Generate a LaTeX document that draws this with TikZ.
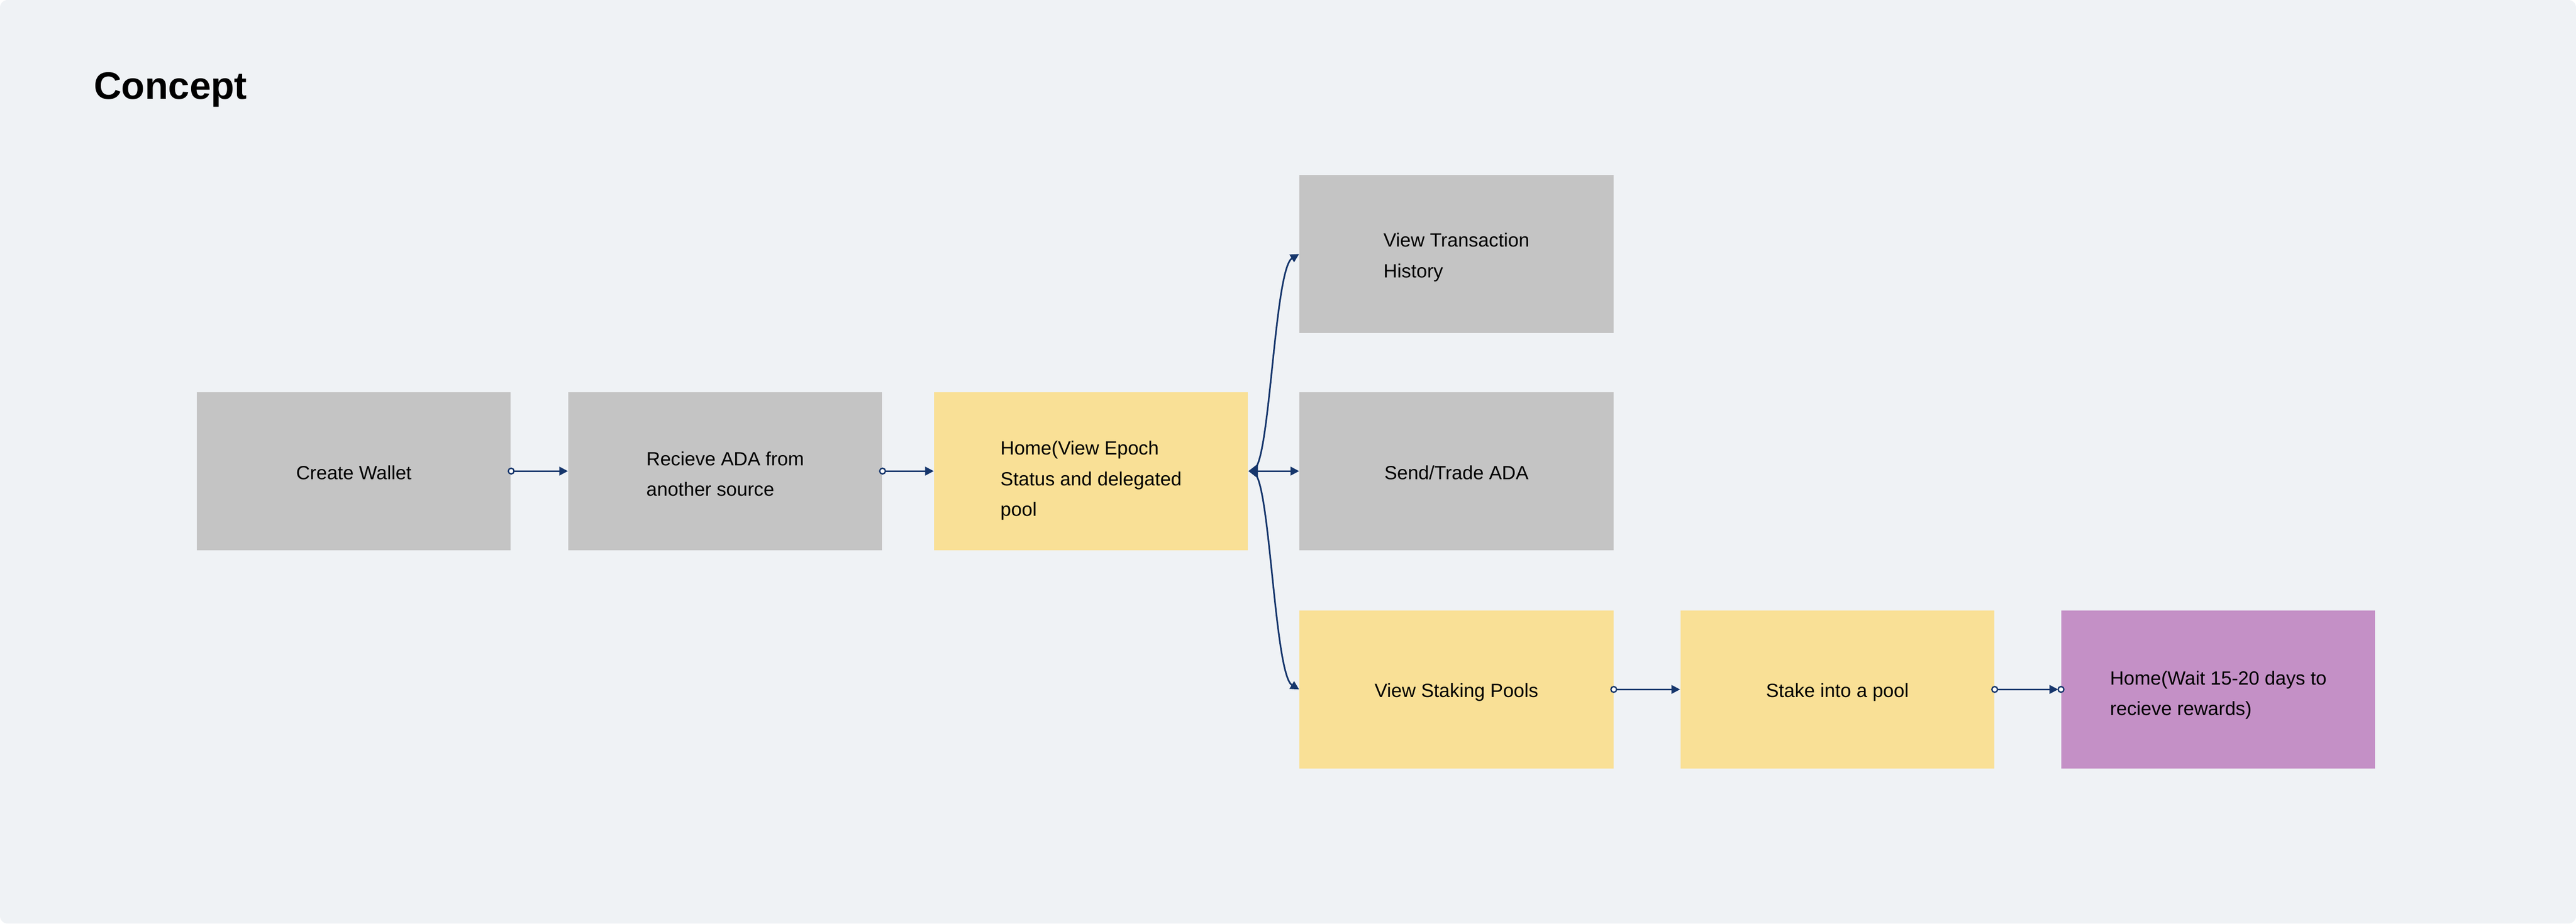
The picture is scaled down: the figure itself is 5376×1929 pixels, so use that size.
\documentclass[tikz,border=0pt]{standalone}
\usepackage{fontspec}
\setmainfont{Liberation Sans}
\usetikzlibrary{arrows.meta,calc}
\definecolor{bgc}{RGB}{239,242,245}
\definecolor{grayc}{RGB}{196,196,196}
\definecolor{yellowc}{RGB}{249,224,150}
\definecolor{purplec}{RGB}{196,144,198}
\definecolor{navy}{RGB}{22,54,108}
\begin{document}
\begin{tikzpicture}[x=0.25pt,y=-0.25pt,
  box/.style={minimum width=163.75pt,minimum height=82.5pt,inner sep=0pt,draw=none},
  txt/.style={inner sep=0pt,align=left,font=\fontsize{10}{16}\selectfont},
  conn/.style={draw=navy,line width=0.85pt},
  endtip/.style={-{Triangle[length=4.5pt,width=4.5pt]}},
  dot/.style={draw=navy,fill=white,line width=0.7pt}]

\useasboundingbox (0,0) rectangle (5376,1929);
\fill[white] (0,0) rectangle (5376,1929);
\fill[bgc,rounded corners=4pt] (0,0) rectangle (5376,1929);

\node[anchor=base west,inner sep=0pt,font=\bfseries\fontsize{20}{24}\selectfont] (title) at (195,207) {Concept};

\node[box,fill=grayc]   (cw) at (738.5,984)  {};
\node[box,fill=grayc]   (rc) at (1513.5,984) {};
\node[box,fill=yellowc] (hm) at (2277,984)   {};
\node[box,fill=grayc]   (vt) at (3039.5,530.5) {};
\node[box,fill=grayc]   (sd) at (3039.5,984) {};
\node[box,fill=yellowc] (vs) at (3039.5,1440) {};
\node[box,fill=yellowc] (sk) at (3834.5,1440) {};
\node[box,fill=purplec] (hw) at (4629.5,1440) {};

\node[txt] (cwt) at ($(cw.center)+(0,3)$) {Create Wallet};
\node[txt] (rct) at ($(rc.center)+(0,6)$) {Recieve ADA from\\another source};
\node[txt] (hmt) at ($(hm.center)+(0,20)$) {Home(View Epoch\\Status and delegated\\pool};
\node[txt] (vtt) at ($(vt.center)+(0,7)$) {View Transaction\\History};
\node[txt] (sdt) at ($(sd.center)+(0,3)$) {Send/Trade ADA};
\node[txt] (vst) at ($(vs.center)+(0,6)$) {View Staking Pools};
\node[txt] (skt) at ($(sk.center)+(0,6)$) {Stake into a pool};
\node[txt] (hwt) at ($(hw.center)+(0,12)$) {Home(Wait 15-20 days to\\recieve rewards)};

\draw[conn,endtip] (cw.east) -- (rc.west);
\filldraw[dot] (cw.east) circle[radius=1.5pt];
\draw[conn,endtip] (rc.east) -- (hm.west);
\filldraw[dot] (rc.east) circle[radius=1.5pt];

\draw[conn,{Triangle[length=5pt,width=7.5pt]}-{Triangle[length=4.5pt,width=4.5pt]}] (hm.east) -- (sd.west);
\draw[conn,endtip] ($(hm.east)+(16,-8)$) .. controls +(30,-45) and +(-50,30) .. (vt.west);
\draw[conn,endtip] ($(hm.east)+(16,8)$) .. controls +(30,45) and +(-50,-30) .. (vs.west);

\draw[conn,endtip] (vs.east) -- (sk.west);
\filldraw[dot] (vs.east) circle[radius=1.5pt];
\draw[conn,endtip,shorten >=1.5pt] (sk.east) -- (hw.west);
\filldraw[dot] (sk.east) circle[radius=1.5pt];
\filldraw[dot] (hw.west) circle[radius=1.5pt];
\end{tikzpicture}
\end{document}
